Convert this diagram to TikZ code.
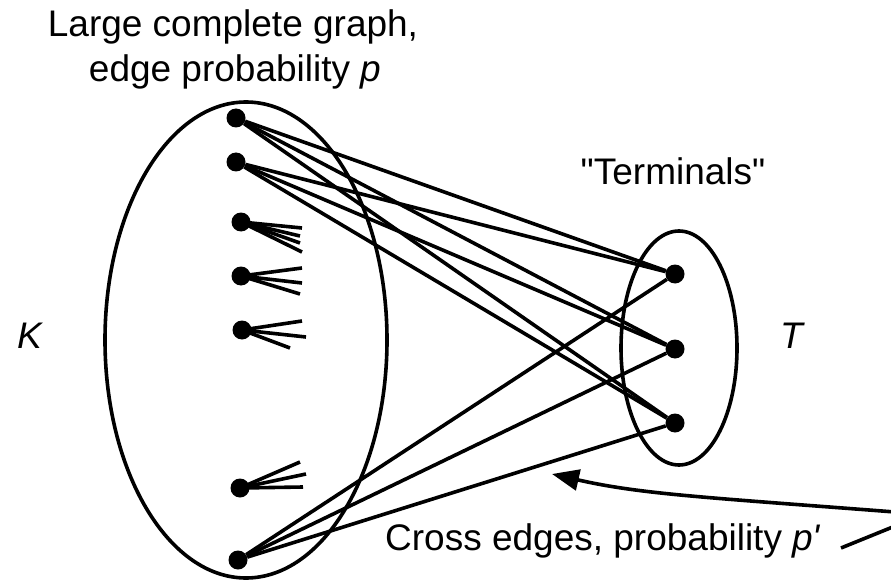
\documentclass[tikz,border=0pt]{standalone}
\usepackage{fontspec}
\setmainfont{Liberation Sans}[Ligatures=TeXOff]
\usetikzlibrary{arrows.meta}
\begin{document}
\begin{tikzpicture}[x=1pt,y=-1pt,
  dot/.style={circle,fill=black,inner sep=0pt,minimum size=19pt},
  edge/.style={line width=3.6pt},
  lbl/.style={inner sep=0pt,font=\fontsize{37}{45}\selectfont}]
\useasboundingbox (0,0) rectangle (891,580);
\clip (0,0) rectangle (891,580);
% sets
\draw[edge] (246,340) ellipse [x radius=141, y radius=238];
\draw[edge] (679,348) ellipse [x radius=58, y radius=117];
% labels
\node[lbl,anchor=base] (t1) at (233,37) {Large complete graph,};
\node[lbl,anchor=base] (t2) at (235,82) {edge probability \textit{p}};
\node[lbl,anchor=base] (term) at (673,185) {"Terminals"};
\node[lbl,anchor=base west] (K) at (17,348) {\textit{K}};
\node[lbl,anchor=base west] (T) at (780,348) {\textit{T}};
\node[lbl,anchor=base west] (cross) at (385,550) {Cross edges, probability \textit{p'}};
% nodes of K
\node[dot] (a) at (236,118) {};
\node[dot] (b) at (236,162) {};
\node[dot] (c) at (241,222) {};
\node[dot] (d) at (241,276) {};
\node[dot] (e) at (242,330) {};
\node[dot] (f) at (240,488) {};
\node[dot] (g) at (238,560) {};
% terminals
\node[dot] (u) at (675,274) {};
\node[dot] (v) at (675,349) {};
\node[dot] (w) at (675,423) {};
% cross edges
\foreach \s in {a,b,g}{
  \foreach \t in {u,v,w}{
    \draw[edge] (\s) -- (\t);
  }
}
% fans inside K
\coordinate (c1) at (302,228);
\coordinate (c2) at (300,236);
\coordinate (c3) at (300,243);
\coordinate (c4) at (302,252);
\coordinate (d1) at (302,268);
\coordinate (d2) at (302,283);
\coordinate (d3) at (300,294);
\coordinate (e1) at (302,321);
\coordinate (e2) at (306,337);
\coordinate (e3) at (290,348);
\coordinate (f1) at (300,462);
\coordinate (f2) at (306,474);
\coordinate (f3) at (303,487);
\foreach \t in {c1,c2,c3,c4}{\draw[edge] (c.center) -- (\t);}
\foreach \t in {d1,d2,d3}{\draw[edge] (d.center) -- (\t);}
\foreach \t in {e1,e2,e3}{\draw[edge] (e.center) -- (\t);}
\foreach \t in {f1,f2,f3}{\draw[edge] (f.center) -- (\t);}
% pointer arrow
\coordinate (p0) at (841,548);
\coordinate (p1) at (905,522);
\coordinate (p2) at (895,512);
\coordinate (tip) at (552,474);
\draw[edge,-{Triangle[length=27pt,width=21pt]}] (p0) -- (p1)
  .. controls (915,517) and (910,513) .. (p2)
  .. controls (700,497) and (640,494) .. (tip);
\end{tikzpicture}
\end{document}
